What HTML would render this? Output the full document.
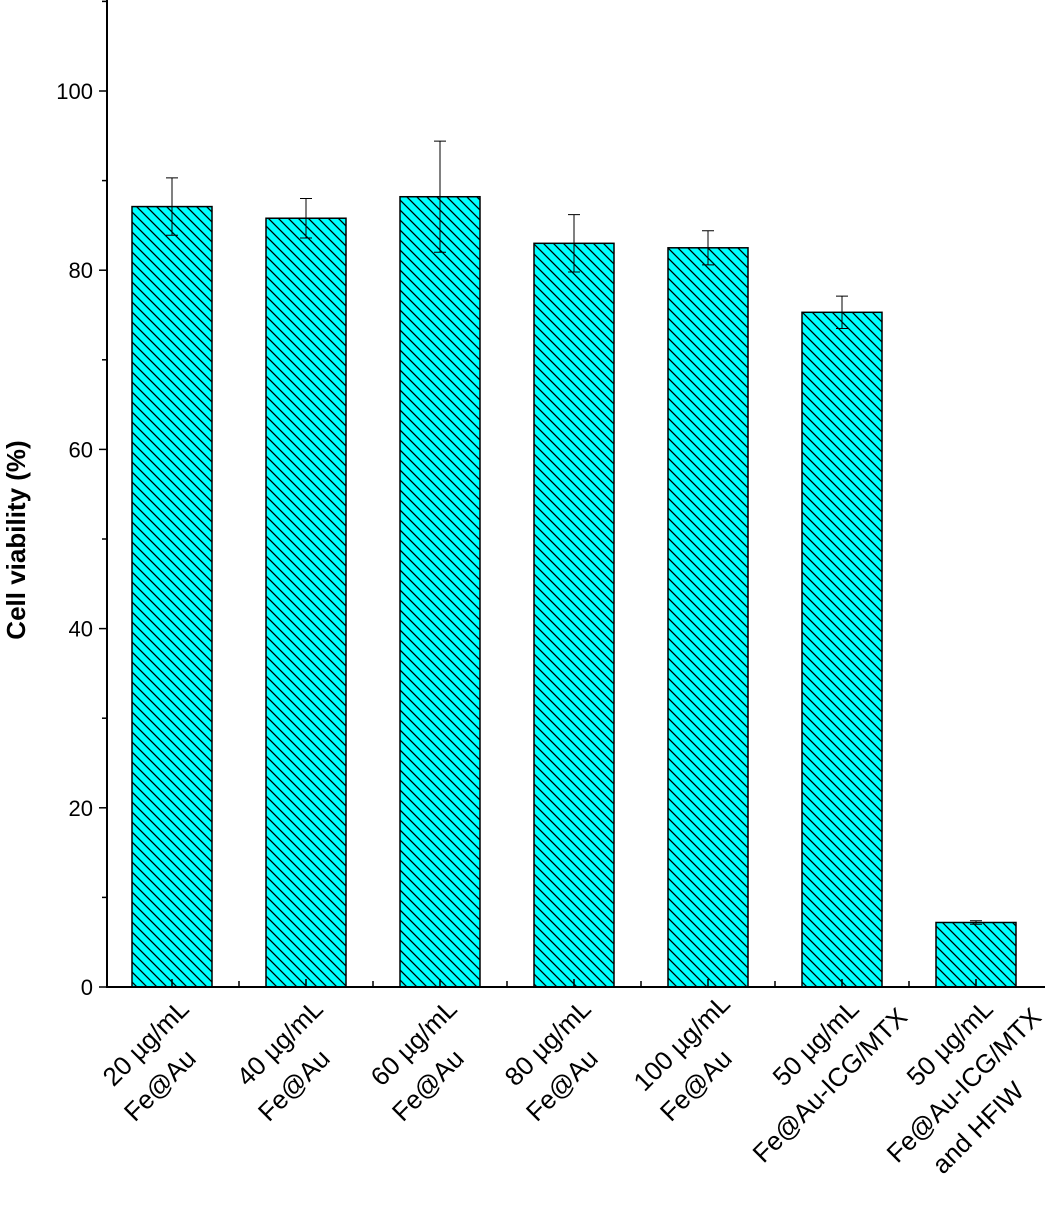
<!DOCTYPE html>
<html><head><meta charset="utf-8"><style>
html,body{margin:0;padding:0;background:#fff}
svg text{font-family:"Liberation Sans",sans-serif}
</style></head><body>
<svg id="chart" width="1045" height="1205" viewBox="0 0 1045 1205" xmlns="http://www.w3.org/2000/svg">
<defs>
<pattern id="hatch" patternUnits="userSpaceOnUse" width="10" height="10">
<rect width="10" height="10" fill="#00ffff"/>
<path d="M-2,-2 L12,12 M-2,8 L2,12 M8,-2 L12,2" stroke="#000" stroke-width="1.3"/>
</pattern>
</defs>
<g id="plot"></g>
<text transform="translate(25,540) rotate(-90)" text-anchor="middle" font-size="26" font-weight="bold">Cell viability (%)</text>
</svg>
<script>
const categories = [["20 µg/mL","Fe@Au"],["40 µg/mL","Fe@Au"],["60 µg/mL","Fe@Au"],["80 µg/mL","Fe@Au"],["100 µg/mL","Fe@Au"],["50 µg/mL","Fe@Au-ICG/MTX"],["50 µg/mL","Fe@Au-ICG/MTX","and HFIW"]];
const values = [87.1, 85.8, 88.2, 83.0, 82.5, 75.3, 7.2];
const errors = [3.2, 2.2, 6.2, 3.2, 1.9, 1.8, 0.2];
const yTicks = [0, 20, 40, 60, 80, 100];

const NS = "http://www.w3.org/2000/svg";
const g = document.getElementById('plot');
const y0 = 987, pxPerUnit = 8.96, axisX = 107;
const y = v => y0 - v * pxPerUnit;
const x = i => 172 + i * 134;
const barW = 80;
function mk(tag, attrs, parent) {
  const e = document.createElementNS(NS, tag);
  for (const k in attrs) e.setAttribute(k, attrs[k]);
  (parent || g).appendChild(e);
  return e;
}
values.forEach((v, i) => {
  const r = mk('rect', {x: x(i) - barW/2, y: y(v), width: barW, height: y0 - y(v), fill: 'url(#hatch)', stroke: '#000', 'stroke-width': 1.5});
  
  
  const e = errors[i];
  const eb = mk('path', {d: `M${x(i)},${y(v+e)} V${y(v-e)} M${x(i)-6},${y(v+e)} H${x(i)+6} M${x(i)-6},${y(v-e)} H${x(i)+6}`, stroke: '#000', 'stroke-width': 1, fill: 'none'});
  
  
  mk('line', {x1: x(i), x2: x(i), y1: y0, y2: y0 - 8, stroke: '#000', 'stroke-width': 1.5});
  if (i < values.length - 1) mk('line', {x1: x(i)+67, x2: x(i)+67, y1: y0, y2: y0 - 6, stroke: '#000', 'stroke-width': 1.5});
  const lg = mk('g', {transform: `translate(${x(i)-20},1049) rotate(-45)`});
  
  
  categories[i].forEach((line, j) => {
    const t = mk('text', {x: -20 * j, y: j * 40, 'text-anchor': 'middle', 'font-size': 26}, lg);
    t.textContent = line;
  });
});
const ax = mk('path', {d: `M${axisX},0 V${y0} H1045`, stroke: '#000', 'stroke-width': 2, fill: 'none'});


for (let v = 0; v <= 110; v += 10) {
  const major = yTicks.includes(v);
  mk('line', {x1: axisX - (major ? 8 : 5), x2: axisX, y1: y(v), y2: y(v), stroke: '#000', 'stroke-width': 1.5});
}
yTicks.forEach(v => {
  const t = mk('text', {x: 93, y: y(v) + 8, 'text-anchor': 'end', 'font-size': 22});
  
  
  t.textContent = v;
});
</script>
</body></html>
